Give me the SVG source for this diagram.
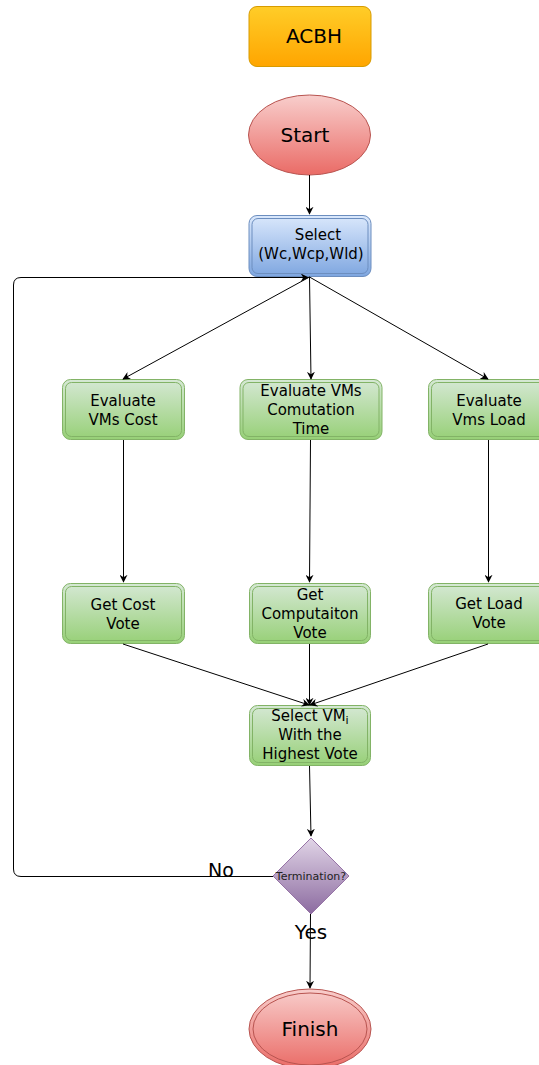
<svg xmlns="http://www.w3.org/2000/svg" width="539" height="1065" viewBox="0 0 539 1065">
<defs>
<linearGradient id="gO" x1="0" y1="0" x2="0" y2="1"><stop offset="0" stop-color="#ffcd28"/><stop offset="1" stop-color="#ffa500"/></linearGradient>
<linearGradient id="gR" x1="0" y1="0" x2="0" y2="1"><stop offset="0" stop-color="#f8cecc"/><stop offset="1" stop-color="#ea6b66"/></linearGradient>
<linearGradient id="gB" x1="0" y1="0" x2="0" y2="1"><stop offset="0" stop-color="#dae8fc"/><stop offset="1" stop-color="#7ea6e0"/></linearGradient>
<linearGradient id="gG" x1="0" y1="0" x2="0" y2="1"><stop offset="0" stop-color="#d5e8d4"/><stop offset="1" stop-color="#97d077"/></linearGradient>
<linearGradient id="gP" x1="0" y1="0" x2="0" y2="1"><stop offset="0" stop-color="#e1d5e7"/><stop offset="1" stop-color="#8c6ba0"/></linearGradient>
<marker id="arr" viewBox="0 0 10 10" refX="9" refY="5" markerWidth="8" markerHeight="8" markerUnits="userSpaceOnUse" orient="auto"><path d="M0,0 L10,5 L0,10 L3,5 Z" fill="#000"/></marker>
</defs>
<style>
text{font-family:"DejaVu Sans","Liberation Sans",sans-serif;fill:#000;text-anchor:middle}
.t14{font-size:15px}
.t20{font-size:20px}
.edge{fill:none;stroke:#000;stroke-width:1}
.green{fill:url(#gG);stroke:#82b366;stroke-width:1}
.gin{fill:none;stroke:#82b366;stroke-width:1}
</style>
<g id="acbh"><rect x="249" y="6.5" width="122" height="60" rx="8" fill="url(#gO)" stroke="#d79b00"/><text class="t20" x="314" y="43">ACBH</text></g>
<g id="start"><ellipse cx="309.5" cy="135" rx="61" ry="40" fill="url(#gR)" stroke="#b85450"/><text class="t20" x="305" y="142">Start</text></g>
<g id="select"><rect x="249" y="215.5" width="122" height="61" rx="8" fill="url(#gB)" stroke="#6c8ebf"/><rect x="252" y="218.5" width="116" height="55" rx="6" fill="none" stroke="#6c8ebf"/><text class="t14" x="318" y="240">Select</text><text class="t14" x="311" y="259">(Wc,Wcp,Wld)</text></g>
<g id="evalCost"><rect class="green" x="62.5" y="379.5" width="122" height="60" rx="8"/><rect class="gin" x="65.5" y="382.5" width="116" height="54" rx="6"/><text class="t14" x="123" y="406">Evaluate</text><text class="t14" x="123" y="425">VMs Cost</text></g>
<g id="evalTime"><rect class="green" x="240" y="379.5" width="142" height="60" rx="8"/><rect class="gin" x="243" y="382.5" width="136" height="54" rx="6"/><text class="t14" x="311" y="396">Evaluate VMs</text><text class="t14" x="311" y="415">Comutation</text><text class="t14" x="311" y="434">Time</text></g>
<g id="evalLoad"><rect class="green" x="428.5" y="379.5" width="122" height="60" rx="8"/><rect class="gin" x="431.5" y="382.5" width="116" height="54" rx="6"/><text class="t14" x="489" y="406">Evaluate</text><text class="t14" x="489" y="425">Vms Load</text></g>
<g id="voteCost"><rect class="green" x="62.5" y="583.5" width="122" height="60" rx="8"/><rect class="gin" x="65.5" y="586.5" width="116" height="54" rx="6"/><text class="t14" x="123" y="610">Get Cost</text><text class="t14" x="123" y="629">Vote</text></g>
<g id="voteComp"><rect class="green" x="249.5" y="583.5" width="121" height="60" rx="8"/><rect class="gin" x="252.5" y="586.5" width="115" height="54" rx="6"/><text class="t14" x="310" y="600">Get</text><text class="t14" x="310" y="619">Computaiton</text><text class="t14" x="310" y="638">Vote</text></g>
<g id="voteLoad"><rect class="green" x="428.5" y="583.5" width="122" height="60" rx="8"/><rect class="gin" x="431.5" y="586.5" width="116" height="54" rx="6"/><text class="t14" x="489" y="609">Get Load</text><text class="t14" x="489" y="628">Vote</text></g>
<g id="selectVM"><rect class="green" x="249.5" y="705.5" width="121" height="60" rx="8"/><rect class="gin" x="252.5" y="708.5" width="115" height="54" rx="6"/><text class="t14" x="310" y="721">Select VM<tspan style="font-size:11px" dy="3">i</tspan></text><text class="t14" x="310" y="740">With the</text><text class="t14" x="310" y="759">Highest Vote</text></g>
<g id="term"><path d="M311,838 L349,876 L311,914 L273,876 Z" fill="url(#gP)" stroke="#9673a6" stroke-linejoin="round"/><text x="311" y="880" style="font-size:11px;fill:#222">Termination?</text></g>
<g id="finish"><ellipse cx="310" cy="1029" rx="61" ry="40" fill="url(#gR)" stroke="#b85450"/><ellipse cx="310" cy="1029" rx="57" ry="36" fill="none" stroke="#b85450"/><text class="t20" x="310" y="1036">Finish</text></g>
<g id="edges">
<path class="edge" d="M309.5,175 L309.5,214" marker-end="url(#arr)"/>
<path class="edge" d="M309.5,277 L123,379" marker-end="url(#arr)"/>
<path class="edge" d="M309.5,277 L311,379" marker-end="url(#arr)"/>
<path class="edge" d="M309.5,277 L488,379" marker-end="url(#arr)"/>
<path class="edge" d="M123.5,440 L123.5,582" marker-end="url(#arr)"/>
<path class="edge" d="M310.5,440 L309.5,582" marker-end="url(#arr)"/>
<path class="edge" d="M488.5,440 L488.5,582" marker-end="url(#arr)"/>
<path class="edge" d="M123,644 L309,705" marker-end="url(#arr)"/>
<path class="edge" d="M309.5,644 L309.5,705" marker-end="url(#arr)"/>
<path class="edge" d="M488,644 L310,705" marker-end="url(#arr)"/>
<path class="edge" d="M309.5,766 L311,836" marker-end="url(#arr)"/>
<path class="edge" d="M273,876.5 L21,876.5 Q13.5,876.5 13.5,869 L13.5,285 Q13.5,277.5 21,277.5 L308,277.5" marker-end="url(#arr)"/>
<path class="edge" d="M310.5,914 L310,988" marker-end="url(#arr)"/>
<text x="221" y="877" style="font-size:19px">No</text>
<text x="311" y="939" style="font-size:20px">Yes</text>
</g>
</svg>
